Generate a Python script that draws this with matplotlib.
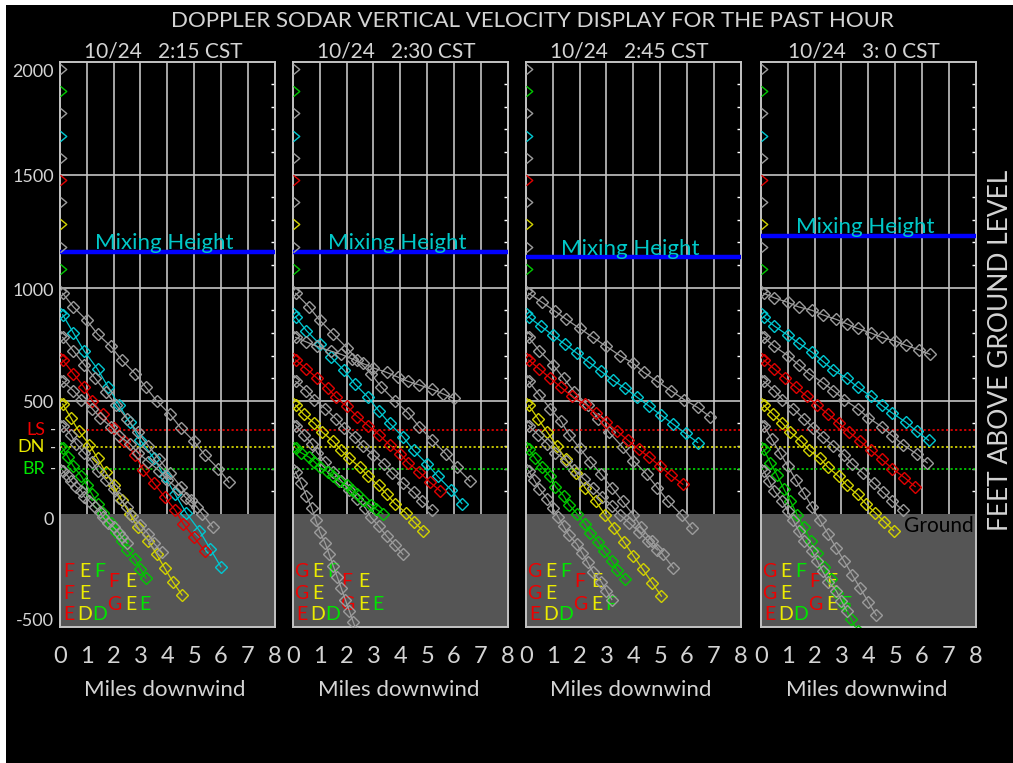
import matplotlib
matplotlib.use("Agg")
import matplotlib.pyplot as plt
from matplotlib.path import Path
from matplotlib.patches import Rectangle

plt.rcParams['font.family'] = ['Lato', 'DejaVu Sans']
plt.rcParams['font.weight'] = 'normal'

TITLE = "DOPPLER SODAR VERTICAL VELOCITY DISPLAY FOR THE PAST HOUR"
TIMES = ["10/24   2:15 CST", "10/24   2:30 CST", "10/24   2:45 CST", "10/24   3: 0 CST"]
MIXING_HEIGHT = [1160, 1160, 1135, 1230]

# sodar gates (30 m steps, in feet) and the colour code used for them
GATE_FT = [1969, 1870, 1772, 1673, 1575, 1476, 1378, 1280, 1181, 1083,
           984, 886, 787, 689, 591, 492, 394, 295, 197]
GATE_COL = ['gray', 'green', 'gray', 'cyan', 'gray', 'red', 'gray', 'yellow', 'gray', 'green',
            'gray', 'cyan', 'gray', 'red', 'gray', 'yellow', 'gray', 'green', 'gray']

# trajectories start at these gates
TRAJ_COL = ['gray', 'cyan', 'gray', 'red', 'gray', 'yellow', 'gray', 'green', 'gray']

# panel 1  (2:15)
P1_X = [[0.1, 0.5, 1.0, 1.4, 1.9, 2.3, 2.8, 3.2, 3.6, 4.1, 4.5, 5.0, 5.4, 5.9, 6.3],
        [0.1, 0.5, 0.9, 1.4, 1.8, 2.2, 2.6, 3.0, 3.5, 3.9, 4.3, 4.7, 5.2, 5.6, 6.0],
        [0.1, 0.5, 0.9, 1.3, 1.7, 2.1, 2.5, 2.9, 3.3, 3.7, 4.1, 4.5, 4.9, 5.3, 5.7],
        [0.1, 0.5, 0.9, 1.2, 1.6, 2.0, 2.4, 2.8, 3.1, 3.5, 3.9, 4.3, 4.6, 5.0, 5.4],
        [0.1, 0.5, 0.8, 1.2, 1.5, 1.9, 2.2, 2.6, 2.9, 3.3, 3.7, 4.0, 4.4, 4.7, 5.1],
        [0.1, 0.4, 0.7, 1.1, 1.4, 1.7, 2.0, 2.3, 2.6, 2.9, 3.3, 3.6, 3.9, 4.2, 4.55],
        [0.1, 0.4, 0.6, 0.9, 1.2, 1.4, 1.7, 2.0, 2.2, 2.5, 2.7, 3.0, 3.3, 3.5, 3.8],
        [0.1, 0.3, 0.5, 0.8, 1.0, 1.2, 1.4, 1.6, 1.9, 2.1, 2.3, 2.5, 2.8, 3.0, 3.2],
        [0.1, 0.3, 0.4, 0.6, 0.8, 0.9, 1.1, 1.3, 1.5, 1.6, 1.8, 2.0, 2.2, 2.3, 2.5]]
P1_Z = [[975, 915, 855, 795, 740, 680, 620, 560, 500, 440, 380, 320, 260, 200, 140],
        [880, 800, 720, 640, 560, 480, 405, 325, 245, 165, 85, 5, -75, -155, -235],
        [780, 720, 660, 600, 540, 480, 420, 360, 300, 240, 180, 120, 60, 0, -60],
        [680, 620, 560, 500, 440, 380, 320, 260, 195, 135, 75, 15, -45, -105, -165],
        [585, 545, 505, 465, 425, 385, 345, 310, 270, 230, 190, 150, 110, 70, 30],
        [485, 425, 365, 305, 245, 185, 125, 60, 0, -60, -120, -180, -240, -300, -360],
        [390, 350, 310, 270, 230, 190, 150, 110, 70, 30, -10, -50, -90, -130, -170],
        [290, 250, 210, 165, 125, 85, 45, 5, -40, -80, -120, -160, -200, -245, -285],
        [190, 165, 145, 120, 100, 75, 55, 30, 8, -15, -40, -60, -85, -105, -130]]

# panel 2  (2:30)
P2_X = [[0.1, 0.6, 1.0, 1.5, 2.0, 2.4, 2.9, 3.3, 3.8, 4.3, 4.7, 5.2, 5.7, 6.1, 6.6],
        [0.1, 0.5, 1.0, 1.4, 1.9, 2.3, 2.8, 3.2, 3.6, 4.1, 4.5, 5.0, 5.4, 5.9, 6.3],
        [0.1, 0.5, 0.9, 1.4, 1.8, 2.2, 2.6, 3.0, 3.5, 3.9, 4.3, 4.7, 5.2, 5.6, 6.0],
        [0.1, 0.5, 0.9, 1.3, 1.6, 2.0, 2.4, 2.8, 3.2, 3.6, 4.0, 4.3, 4.7, 5.1, 5.5],
        [0.1, 0.5, 0.8, 1.2, 1.6, 1.9, 2.3, 2.6, 3.0, 3.4, 3.7, 4.1, 4.5, 4.8, 5.2],
        [0.1, 0.4, 0.8, 1.1, 1.5, 1.8, 2.1, 2.5, 2.8, 3.2, 3.5, 3.8, 4.2, 4.5, 4.85],
        [0.1, 0.4, 0.7, 0.9, 1.2, 1.5, 1.8, 2.1, 2.4, 2.7, 2.9, 3.2, 3.5, 3.8, 4.1],
        [0.1, 0.3, 0.6, 0.8, 1.0, 1.3, 1.5, 1.7, 2.0, 2.2, 2.4, 2.6, 2.9, 3.1, 3.35],
        [0.1, 0.3, 0.5, 0.7, 0.85, 1.0, 1.2, 1.35, 1.5, 1.65, 1.8, 1.95, 2.1, 2.25, 2.4]]
P2_Z = [[975, 915, 855, 795, 735, 680, 620, 560, 500, 445, 385, 325, 265, 205, 145],
        [870, 810, 750, 695, 635, 575, 515, 455, 400, 340, 280, 220, 165, 105, 45],
        [780, 760, 740, 720, 705, 685, 665, 645, 625, 605, 585, 570, 550, 530, 510],
        [680, 640, 600, 555, 515, 475, 430, 390, 350, 305, 265, 225, 185, 140, 100],
        [585, 545, 505, 465, 420, 380, 340, 300, 260, 220, 180, 135, 95, 55, 15],
        [480, 440, 400, 360, 320, 280, 245, 205, 165, 125, 85, 45, 5, -35, -75],
        [390, 350, 310, 270, 230, 185, 145, 105, 65, 25, -15, -55, -100, -140, -180],
        [290, 270, 250, 230, 205, 185, 165, 145, 125, 105, 85, 60, 40, 20, 0],
        [185, 135, 80, 25, -30, -80, -130, -180, -230, -280, -330, -380, -430, -480, -530]]

# panel 3  (2:45)
P3_X = [[0.1, 0.6, 1.1, 1.5, 2.0, 2.5, 3.0, 3.5, 4.0, 4.4, 4.9, 5.4, 5.9, 6.4, 6.85],
        [0.1, 0.55, 1.0, 1.45, 1.9, 2.35, 2.8, 3.25, 3.7, 4.15, 4.6, 5.05, 5.5, 5.95, 6.4],
        [0.1, 0.5, 1.0, 1.4, 1.8, 2.3, 2.7, 3.1, 3.6, 4.0, 4.5, 4.9, 5.3, 5.8, 6.2],
        [0.1, 0.5, 0.9, 1.3, 1.7, 2.2, 2.6, 3.0, 3.4, 3.8, 4.2, 4.6, 5.0, 5.4, 5.85],
        [0.1, 0.5, 0.9, 1.3, 1.6, 2.0, 2.4, 2.8, 3.2, 3.6, 4.0, 4.3, 4.7, 5.1, 5.5],
        [0.1, 0.45, 0.8, 1.15, 1.5, 1.85, 2.2, 2.6, 2.95, 3.3, 3.65, 4.0, 4.35, 4.7, 5.05],
        [0.1, 0.45, 0.8, 1.1, 1.5, 1.8, 2.15, 2.5, 2.85, 3.2, 3.5, 3.85, 4.2, 4.55, 4.9],
        [0.1, 0.35, 0.6, 0.9, 1.1, 1.4, 1.6, 1.9, 2.2, 2.4, 2.7, 2.9, 3.2, 3.4, 3.7],
        [0.1, 0.3, 0.5, 0.8, 1.0, 1.2, 1.4, 1.6, 1.9, 2.1, 2.3, 2.5, 2.8, 3.0, 3.2]]
P3_Z = [[975, 935, 895, 860, 820, 780, 740, 700, 665, 625, 585, 545, 505, 470, 430],
        [870, 830, 790, 750, 710, 670, 630, 590, 555, 515, 475, 435, 395, 355, 315],
        [780, 720, 660, 600, 540, 480, 420, 360, 295, 235, 175, 115, 55, -5, -65],
        [680, 640, 600, 560, 520, 485, 445, 405, 365, 325, 285, 250, 210, 170, 130],
        [585, 525, 465, 410, 350, 290, 230, 175, 115, 55, -5, -60, -120, -180, -240],
        [480, 420, 360, 300, 240, 180, 115, 55, -5, -65, -125, -185, -245, -305, -365],
        [390, 350, 310, 270, 235, 195, 155, 115, 75, 35, -5, -40, -80, -120, -160],
        [285, 245, 205, 165, 120, 80, 40, 0, -45, -85, -125, -165, -210, -250, -290],
        [190, 150, 110, 65, 25, -15, -55, -95, -135, -175, -215, -260, -300, -340, -380]]

# panel 4  (3:00)
P4_X = [[0.1, 0.5, 1.0, 1.4, 1.9, 2.3, 2.8, 3.2, 3.6, 4.1, 4.5, 5.0, 5.4, 5.9, 6.3],
        [0.1, 0.5, 1.0, 1.4, 1.9, 2.3, 2.7, 3.2, 3.6, 4.1, 4.5, 4.9, 5.4, 5.8, 6.25],
        [0.1, 0.5, 1.0, 1.4, 1.8, 2.3, 2.7, 3.1, 3.6, 4.0, 4.5, 4.9, 5.3, 5.8, 6.2],
        [0.1, 0.5, 0.9, 1.3, 1.7, 2.1, 2.5, 2.9, 3.3, 3.7, 4.1, 4.5, 4.9, 5.35, 5.75],
        [0.1, 0.5, 0.8, 1.2, 1.6, 1.95, 2.3, 2.7, 3.1, 3.4, 3.8, 4.2, 4.55, 4.9, 5.3],
        [0.1, 0.45, 0.8, 1.1, 1.5, 1.8, 2.2, 2.5, 2.9, 3.2, 3.6, 3.9, 4.25, 4.6, 4.95],
        [0.1, 0.4, 0.7, 1.0, 1.3, 1.6, 1.9, 2.2, 2.5, 2.8, 3.1, 3.4, 3.7, 4.0, 4.3],
        [0.1, 0.35, 0.6, 0.85, 1.1, 1.35, 1.6, 1.85, 2.1, 2.35, 2.6, 2.85, 3.1, 3.35, 3.6],
        [0.1, 0.3, 0.5, 0.8, 1.0, 1.2, 1.4, 1.6, 1.9, 2.1, 2.3, 2.5, 2.8, 3.0, 3.2]]
P4_Z = [[975, 955, 935, 915, 900, 880, 860, 840, 820, 800, 780, 765, 745, 725, 705],
        [870, 830, 790, 755, 715, 675, 635, 600, 560, 520, 480, 445, 405, 365, 325],
        [780, 740, 700, 660, 620, 580, 545, 505, 465, 425, 385, 345, 305, 265, 225],
        [680, 640, 600, 560, 520, 480, 440, 400, 360, 320, 280, 240, 200, 160, 120],
        [585, 545, 505, 465, 420, 380, 340, 300, 260, 220, 180, 135, 95, 55, 15],
        [480, 440, 400, 360, 320, 280, 245, 205, 165, 125, 85, 45, 5, -35, -75],
        [390, 330, 270, 210, 150, 90, 30, -30, -90, -150, -210, -270, -330, -390, -450],
        [285, 225, 170, 110, 55, -5, -60, -120, -175, -235, -290, -350, -405, -465, -520],
        [190, 145, 100, 55, 10, -30, -75, -120, -165, -210, -255, -300, -340, -385, -430]]

TRAJ_X = [P1_X, P2_X, P3_X, P4_X]
TRAJ_Z = [P1_Z, P2_Z, P3_Z, P4_Z]

# reference levels (ft)
LEVEL_NAMES = ['LS', 'DN', 'BR']
LEVEL_FT = [370, 293, 200]
LEVEL_COL = ['red', 'yellow', 'green']

# stability class letters (columns: LS, DN, BR)
STAB_A = [[["F", "E", "F"], ["F", "E", ""], ["E", "D", "D"]],
          [["G", "E", "F"], ["G", "E", ""], ["E", "D", "D"]],
          [["G", "E", "F"], ["G", "E", ""], ["E", "D", "D"]],
          [["G", "E", "F"], ["G", "E", ""], ["E", "D", "D"]]]
STAB_B = [[["F", "E", ""], ["G", "E", "E"]],
          [["F", "E", ""], ["G", "E", "E"]],
          [["F", "E", ""], ["G", "E", "F"]],
          [["F", "E", ""], ["G", "E", "F"]]]

Y_TICKS = [2000, 1500, 1000, 500, 0, -500]
X_TICKS = [0, 1, 2, 3, 4, 5, 6, 7, 8]

# ---------------- styling ----------------
COL = {'gray': '#9c9c9c', 'cyan': '#00c8d2', 'red': '#e00000',
       'yellow': '#d2d200', 'green': '#00c800'}
LETTER_COL = ['#f00000', '#ecec00', '#00e600']
TXT = '#d4d4d4'
GRID = '#c4c4c4'

W, H = 1013, 763
fig = plt.figure(figsize=(W / 100, H / 100), dpi=100)
fig.patch.set_facecolor('white')
fig.add_artist(Rectangle((6 / W, 0), 1, (H - 5) / H, transform=fig.transFigure,
                         facecolor='black', edgecolor='none', zorder=-10))

PANEL_LEFT = [60, 293, 526, 761]
PANEL_W = 214.5
TOP_PX, BOT_PX = 61.7, 626.7

chevron = Path([(0, 1), (1.2, 0), (0, -1)], [Path.MOVETO, Path.LINETO, Path.LINETO])

for p in range(4):
    ax = fig.add_axes([PANEL_LEFT[p] / W, 1 - BOT_PX / H, PANEL_W / W, (BOT_PX - TOP_PX) / H])
    ax.set_facecolor('black')
    ax.set_xlim(0, 8)
    ax.set_ylim(-500, 2000)
    ax.set_xticks([])
    ax.set_yticks([])
    for s in ax.spines.values():
        s.set_color(GRID)
        s.set_linewidth(1.4)

    # grid above ground
    ax.vlines(range(1, 8), 0, 2000, colors=GRID, lw=1.2, zorder=1)
    ax.hlines([500, 1000, 1500], 0, 8, colors=GRID, lw=1.2, zorder=1)
    # small inward ticks on right edge every 100 ft
    ax.hlines([v for v in range(100, 2000, 100) if v % 500], 7.88, 8, colors='white', lw=1, zorder=1)

    # ground
    ax.add_patch(Rectangle((0, -500), 8, 500, facecolor='#555555', edgecolor='none', zorder=1.5))

    # reference levels
    for lv, c in zip(LEVEL_FT, LEVEL_COL):
        ax.hlines(lv, 0, 8, colors=COL[c], lw=1.3, linestyles=(0, (1.2, 1.3)), zorder=2)

    # mixing height
    ax.hlines(MIXING_HEIGHT[p], 0, 8, colors='#0000ff', lw=3.2, zorder=3)
    ax.text(3.9, MIXING_HEIGHT[p] + 10, "Mixing Height", color='#00c8c8', fontsize=16,
            ha='center', va='baseline', zorder=3.1)

    # gate markers on left edge
    for g, c in zip(GATE_FT, GATE_COL):
        ax.plot(0, g, marker=chevron, ms=9, mec=COL[c], mfc='none', mew=1, ls='none',
                clip_on=False, zorder=4)

    # stability letters
    cols_a = [0.32, 0.93, 1.47]
    rows_a = [-254, -351, -448]
    for r, row in enumerate(STAB_A[p]):
        for c, ch in enumerate(row):
            if ch:
                ax.text(cols_a[c], rows_a[r], ch, color=LETTER_COL[c], fontsize=14,
                        ha='center', va='center', zorder=3)
    cols_b = [2.01, 2.63, 3.15]
    rows_b = [-298, -400]
    for r, row in enumerate(STAB_B[p]):
        for c, ch in enumerate(row):
            if ch:
                ax.text(cols_b[c], rows_b[r], ch, color=LETTER_COL[c], fontsize=14,
                        ha='center', va='center', zorder=3)

    # trajectories
    for xs, zs, c in zip(TRAJ_X[p], TRAJ_Z[p], TRAJ_COL):
        ax.plot(xs, zs, color=COL[c], lw=0.9, marker='D', ms=6.4, mfc='none',
                mew=1.0, zorder=4)

    # x tick labels
    for t in X_TICKS:
        ax.text(t, -0.052, str(t), transform=ax.get_xaxis_transform(), color=TXT,
                fontsize=17, ha='center', va='center')
    fig.text((PANEL_LEFT[p] + PANEL_W / 2 - 2) / W, 1 - 690 / H, "Miles downwind",
             color=TXT, fontsize=16, ha='center', va='center')
    fig.text((PANEL_LEFT[p] + PANEL_W / 2 - 4) / W, 1 - 51 / H, TIMES[p],
             color=TXT, fontsize=15, ha='center', va='center')

    if p == 0:
        ypos = {2000: 1955, 1500: 1490, 1000: 985, 500: 488, 0: -30, -500: -475}
        for t in Y_TICKS:
            ax.text(-0.028, ypos[t], str(t), transform=ax.get_yaxis_transform(), color=TXT,
                    fontsize=13, ha='right', va='center')
        for name, lv, c in zip(LEVEL_NAMES, LEVEL_FT, LEVEL_COL):
            ax.text(-0.07, lv, name, transform=ax.get_yaxis_transform(),
                    color=LETTER_COL[LEVEL_COL.index(c)], fontsize=13, ha='right', va='center')
            ax.text(-0.033, lv, "-", transform=ax.get_yaxis_transform(), color=TXT,
                    fontsize=12, ha='center', va='center')
    if p == 3:
        ax.text(7.95, -55, "Ground", color='black', fontsize=15, ha='right', va='center', zorder=3)

fig.text(532.5 / W, 1 - 21 / H, TITLE, color=TXT, fontsize=16, ha='center', va='center')
fig.text(1000 / W, 1 - 350 / H, "FEET ABOVE GROUND LEVEL", color=TXT, fontsize=19,
         rotation=90, ha='center', va='center')

fig.savefig('out.png', dpi=100, facecolor=fig.get_facecolor())
